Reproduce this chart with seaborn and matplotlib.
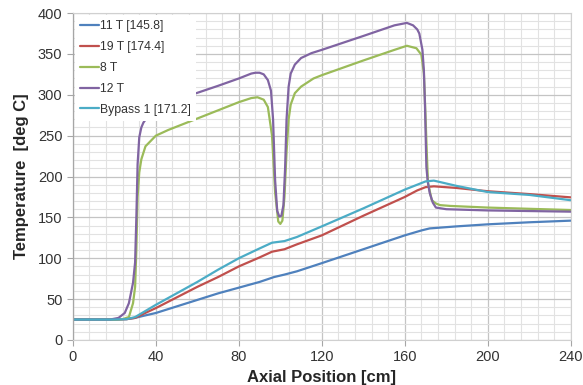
import numpy as np
import pandas as pd
import matplotlib
matplotlib.use("Agg")
import matplotlib.pyplot as plt
from matplotlib.ticker import MultipleLocator
import seaborn as sns

# values
x_11t = [0, 20, 26, 30, 34, 40, 50, 60, 70, 80, 90, 97, 102, 108, 120, 140, 160, 168, 172, 185, 200, 220, 240]
y_11t = [25, 25, 25.5, 27, 29.5, 33, 41, 49, 57, 64, 71, 77, 80, 84, 94, 111, 128, 134, 136.5, 139, 141.5, 144, 146]

x_19t = [0, 20, 26, 30, 34, 40, 50, 60, 70, 80, 90, 96, 102, 108, 120, 140, 160, 166, 170, 174, 185, 200, 220, 240]
y_19t = [25, 25, 25.5, 27, 32, 39, 52, 65, 77, 90, 101, 108, 111, 117, 128, 152, 175, 183, 187, 188, 186, 182, 178.5, 174.5]

x_8t = [0, 20, 24, 27, 29, 30, 30.6, 31.2, 32, 33, 35, 40, 46, 60, 70, 80, 86, 89, 92, 94, 96, 97.5, 99, 100,
        101, 102, 103, 104, 105, 107, 110, 116, 120, 140, 155, 161, 165.6, 168, 169.2, 170, 170.6, 171.2, 173,
        175, 177, 182, 200, 240]
y_8t = [25, 25, 25.5, 28, 45, 65, 110, 175, 205, 221, 237, 250, 257, 271, 281, 291, 296, 297, 294, 285, 250, 180,
        145, 142, 146, 175, 230, 270, 288, 302, 310, 320, 324, 342, 355, 360, 357, 349, 326, 273, 230, 192, 171,
        167, 165, 164, 162, 159]

x_12t = [0, 18, 22, 25, 27, 29, 30, 30.6, 31.2, 32, 33, 34, 36, 40, 46, 56, 70, 80, 86, 88, 90, 92, 94, 95.5, 96.5,
         97.5, 98.5, 99.5, 100.5, 101.5, 102.3, 103, 104, 105, 107, 110, 115, 120, 140, 155, 161, 164, 166, 167,
         168.5, 169.2, 169.7, 170.4, 171, 172, 173.5, 175, 180, 200, 240]
y_12t = [25, 25, 27, 33, 45, 70, 95, 150, 215, 248, 260, 266, 273, 280, 288, 299, 311, 320, 326, 327, 327, 325, 318,
         305, 270, 195, 158, 151, 152, 165, 210, 270, 310, 326, 337, 345, 351, 355, 372, 385, 388, 385, 380, 375,
         355, 330, 290, 212, 195, 180, 168, 162, 160, 158.5, 157]

x_bp1 = [0, 20, 26, 30, 34, 40, 50, 60, 70, 80, 90, 96, 102, 108, 120, 140, 160, 166, 170, 174, 185, 200, 220, 240]
y_bp1 = [25, 25, 25.5, 28, 34, 43, 57, 71, 86, 100, 112, 119, 121, 126, 139, 161, 184, 190, 194, 195, 188.5, 181, 177.5, 171]

series_names = ["11 T [145.8]", "19 T [174.4]", "8 T", "12 T", "Bypass 1 [171.2]"]
colors = ["#4F81BD", "#C0504D", "#9BBB59", "#8064A2", "#4BACC6"]

frames = []
for name, xs, ys in zip(series_names,
                        [x_11t, x_19t, x_8t, x_12t, x_bp1],
                        [y_11t, y_19t, y_8t, y_12t, y_bp1]):
    frames.append(pd.DataFrame({"x": xs, "y": ys, "series": name}))
df = pd.concat(frames, ignore_index=True)

sns.set_style("white")
plt.rcParams["font.family"] = ["Liberation Sans", "DejaVu Sans"]

fig = plt.figure(figsize=(5.83, 3.85), dpi=100)
ax = fig.add_axes([0.125, 0.117, 0.854, 0.849])

sns.lineplot(data=df, x="x", y="y", hue="series", hue_order=series_names,
             palette=colors, estimator=None, sort=False, linewidth=1.6, ax=ax)

ax.set_xlim(0, 240)
ax.set_ylim(0, 400)
ax.xaxis.set_major_locator(MultipleLocator(40))
ax.xaxis.set_minor_locator(MultipleLocator(8))
ax.yaxis.set_major_locator(MultipleLocator(50))
ax.yaxis.set_minor_locator(MultipleLocator(10))
ax.grid(which="major", color="#c4c4c4", linewidth=0.9)
ax.grid(which="minor", color="#e2e2e2", linewidth=0.8)
ax.set_axisbelow(True)

for side in ["top", "right", "bottom"]:
    ax.spines[side].set_color("#d0d0d0")
    ax.spines[side].set_linewidth(0.8)
ax.spines["left"].set_color("#a6a6a6")
ax.spines["left"].set_linewidth(0.9)

ax.tick_params(axis="both", which="major", labelsize=10.5, labelcolor="#333333",
               length=4, color="#a6a6a6", direction="out", left=True, bottom=True)
ax.tick_params(axis="both", which="minor", length=0)

ax.set_xlabel("Axial Position [cm]", fontsize=12, fontweight="bold", labelpad=4)
ax.set_ylabel("Temperature  [deg C]", fontsize=12, fontweight="bold", labelpad=6)

leg = ax.legend(loc="upper left", fontsize=8.8, frameon=True, fancybox=False,
                facecolor="white", edgecolor="none", framealpha=1.0,
                handlelength=1.5, handletextpad=0.1, labelspacing=0.72,
                borderaxespad=0.15, borderpad=0.45)
for t in leg.get_texts():
    t.set_color("#333333")

fig.savefig("out.png", dpi=100)
